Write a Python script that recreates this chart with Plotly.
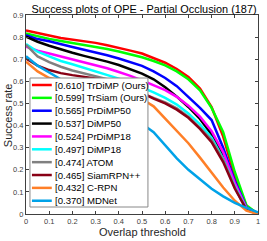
import plotly.graph_objects as go

thresholds = [0.0, 0.05, 0.1, 0.15, 0.2, 0.25, 0.3, 0.35, 0.4, 0.45, 0.5,
              0.55, 0.6, 0.65, 0.7, 0.75, 0.8, 0.85, 0.9, 0.95, 1.0]

trdimp = [0.830, 0.817, 0.807, 0.796, 0.789, 0.782, 0.774, 0.763, 0.752, 0.739, 0.726,
          0.706, 0.684, 0.656, 0.620, 0.567, 0.484, 0.350, 0.170, 0.035, 0.0]
trsiam = [0.817, 0.803, 0.792, 0.782, 0.773, 0.765, 0.757, 0.746, 0.735, 0.722, 0.709,
          0.692, 0.672, 0.645, 0.609, 0.559, 0.480, 0.370, 0.190, 0.040, 0.0]
prdimp50 = [0.809, 0.791, 0.781, 0.767, 0.755, 0.743, 0.732, 0.718, 0.703, 0.687, 0.670,
            0.645, 0.615, 0.578, 0.531, 0.480, 0.425, 0.300, 0.150, 0.030, 0.0]
dimp50 = [0.802, 0.779, 0.761, 0.744, 0.729, 0.715, 0.703, 0.689, 0.674, 0.656, 0.635,
          0.609, 0.573, 0.531, 0.484, 0.430, 0.360, 0.260, 0.130, 0.025, 0.0]
prdimp18 = [0.757, 0.739, 0.726, 0.713, 0.700, 0.687, 0.674, 0.659, 0.642, 0.625, 0.604,
            0.583, 0.560, 0.530, 0.490, 0.440, 0.375, 0.280, 0.140, 0.028, 0.0]
dimp18 = [0.769, 0.734, 0.713, 0.692, 0.677, 0.661, 0.645, 0.630, 0.612, 0.594, 0.573,
          0.550, 0.525, 0.495, 0.455, 0.405, 0.345, 0.250, 0.125, 0.022, 0.0]
atom = [0.765, 0.713, 0.687, 0.666, 0.649, 0.636, 0.624, 0.610, 0.594, 0.570, 0.545,
        0.525, 0.505, 0.478, 0.440, 0.390, 0.335, 0.245, 0.120, 0.020, 0.0]
siamrpnpp = [0.703, 0.671, 0.651, 0.637, 0.628, 0.621, 0.615, 0.605, 0.590, 0.572, 0.548,
             0.522, 0.500, 0.472, 0.435, 0.385, 0.325, 0.235, 0.115, 0.020, 0.0]
crpn = [0.689, 0.645, 0.615, 0.605, 0.595, 0.585, 0.575, 0.564, 0.552, 0.538, 0.520,
        0.487, 0.430, 0.375, 0.320, 0.255, 0.185, 0.120, 0.060, 0.015, 0.0]
mdnet = [0.713, 0.671, 0.640, 0.609, 0.578, 0.547, 0.515, 0.486, 0.460, 0.435, 0.408,
         0.370, 0.310, 0.252, 0.200, 0.156, 0.114, 0.080, 0.050, 0.028, 0.008]

names = ["[0.610] TrDiMP (Ours)", "[0.599] TrSiam (Ours)", "[0.565] PrDiMP50",
         "[0.537] DiMP50", "[0.524] PrDiMP18", "[0.497] DiMP18", "[0.474] ATOM",
         "[0.465] SiamRPN++", "[0.432] C-RPN", "[0.370] MDNet"]
series = [trdimp, trsiam, prdimp50, dimp50, prdimp18, dimp18, atom, siamrpnpp, crpn, mdnet]
colors = ["#FF0000", "#00FF00", "#0000FF", "#000000", "#FF00FF", "#00FFFF",
          "#808080", "#880015", "#FF7F27", "#00A2E8"]

xticks = [0, 0.1, 0.2, 0.3, 0.4, 0.5, 0.6, 0.7, 0.8, 0.9, 1]
xticklabels = ["0", "0.1", "0.2", "0.3", "0.4", "0.5", "0.6", "0.7", "0.8", "0.9", "1"]
yticks = [0, 0.1, 0.2, 0.3, 0.4, 0.5, 0.6, 0.7, 0.8, 0.9]
yticklabels = ["0", "0.1", "0.2", "0.3", "0.4", "0.5", "0.6", "0.7", "0.8", "0.9"]

W, H = 267, 241
ML, MR, MT, MB = 26, 7, 15, 27
PW, PH = W - ML - MR, H - MT - MB

def px(x):
    return (x - ML) / PW

def py(y):
    return (H - MB - y) / PH

FONT = "Liberation Sans, Arial, Helvetica, sans-serif"

fig = go.Figure()
for name, vals, col in zip(names, series, colors):
    fig.add_trace(go.Scatter(x=thresholds, y=vals, mode="lines", name=name,
                             line=dict(color=col, width=2.5), showlegend=False,
                             hoverinfo="skip"))

axis_common = dict(showgrid=False, zeroline=False, showline=True, linecolor="#404040",
                   linewidth=1, mirror="ticks", ticks="inside", ticklen=3,
                   tickcolor="#404040", tickwidth=1,
                   tickfont=dict(family=FONT, size=7.5, color="#404040"))

fig.update_xaxes(range=[0, 1], tickvals=xticks, ticktext=xticklabels, **axis_common)
fig.update_yaxes(range=[0, 0.9], tickvals=yticks, ticktext=yticklabels, **axis_common)

shapes = []
annotations = []
# legend box
shapes.append(dict(type="rect", xref="paper", yref="paper", x0=px(30), x1=px(149),
                   y0=py(207), y1=py(78), fillcolor="white",
                   line=dict(color="#888888", width=1), layer="above"))
row0, dy = 85.0, 12.86
for i, (name, col) in enumerate(zip(names, colors)):
    yc = py(row0 + dy * i)
    shapes.append(dict(type="line", xref="paper", yref="paper", x0=px(32), x1=px(52),
                       y0=yc, y1=yc, line=dict(color=col, width=2.5), layer="above"))
    annotations.append(dict(text=name, xref="paper", yref="paper", x=px(53.5), y=yc,
                            xanchor="left", yanchor="middle", showarrow=False,
                            font=dict(family=FONT, size=9.6, color="black")))

annotations.append(dict(text="Overlap threshold", xref="paper", yref="paper",
                        x=px(143), y=py(232), xanchor="center", yanchor="middle",
                        showarrow=False, font=dict(family=FONT, size=11, color="#262626")))
annotations.append(dict(text="Success rate", xref="paper", yref="paper",
                        x=px(8), y=py(115), xanchor="center", yanchor="middle",
                        textangle=-90, showarrow=False,
                        font=dict(family=FONT, size=11, color="#262626")))

fig.update_layout(
    width=W, height=H,
    margin=dict(l=ML, r=MR, t=MT, b=MB, pad=0),
    paper_bgcolor="white", plot_bgcolor="white",
    title=dict(text="Success plots of OPE - Partial Occlusion (187)",
               x=(144) / W, xanchor="center", y=1 - 9 / H, yanchor="middle",
               yref="container", font=dict(family=FONT, size=10.9, color="black")),
    shapes=shapes, annotations=annotations, showlegend=False,
)

fig.write_html("out.html", config={"displayModeBar": False, "staticPlot": True},
               post_script="document.body.style.margin='0';document.body.style.padding='0';"
                           "document.body.style.overflow='hidden';")
